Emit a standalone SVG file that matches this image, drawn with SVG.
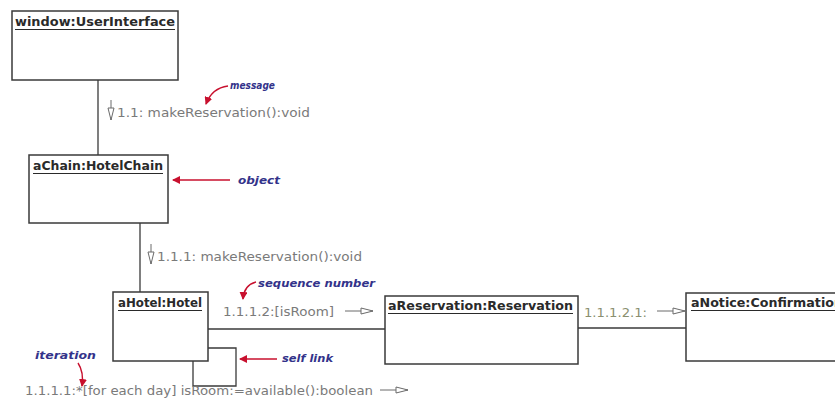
<svg xmlns="http://www.w3.org/2000/svg" width="835" height="403" viewBox="0 0 835 403">
<style>
.box{fill:#fff;stroke:#3a3a3a;stroke-width:1.5}
.title{font-family:"DejaVu Sans",sans-serif;font-weight:bold;font-size:11.5px;fill:#2a2a2a}
.ul{stroke:#2a2a2a;stroke-width:1}
.conn{fill:none;stroke:#3a3a3a;stroke-width:1.3}
.msg{font-family:"DejaVu Sans",sans-serif;font-size:11.5px;fill:#7a7a7a}
.msgarrow{fill:none;stroke:#6a6a6a;stroke-width:1}
.note{font-family:"DejaVu Sans",sans-serif;font-weight:bold;font-style:italic;font-size:10px;fill:#33338a}
.red{fill:none;stroke:#c8102e;stroke-width:1.4}
</style>
<defs>
<marker id="redhead" markerWidth="8" markerHeight="8" refX="7" refY="4" orient="auto" markerUnits="userSpaceOnUse">
<path d="M0,0 L8,4 L0,8 Z" fill="#c8102e"/>
</marker>
<marker id="openhead" markerWidth="14" markerHeight="8" refX="13" refY="4" orient="auto" markerUnits="userSpaceOnUse">
<path d="M1,1 L13,4 L1,7 Z" fill="#fff" stroke="#6a6a6a" stroke-width="1"/>
</marker>
</defs>
<rect width="835" height="403" fill="#fff"/>
<g id="connectors">
<path class="conn" d="M98,80 V155"/>
<path class="conn" d="M140,223 V292"/>
<path class="conn" d="M208,329 H385"/>
<path class="conn" d="M578,328 H686"/>
<path class="conn" d="M208,348 H236 V386 H193 V361"/>
</g>
<g id="window">
<rect class="box" x="12" y="11" width="166" height="69"/>
<text class="title" x="15" y="26" textLength="160" lengthAdjust="spacingAndGlyphs">window:UserInterface</text>
<line class="ul" x1="15" y1="29.5" x2="175" y2="29.5"/>
</g>
<g id="aChain">
<rect class="box" x="29" y="155" width="139" height="68"/>
<text class="title" x="33" y="170" textLength="130" lengthAdjust="spacingAndGlyphs">aChain:HotelChain</text>
<line class="ul" x1="33" y1="173.5" x2="163" y2="173.5"/>
</g>
<g id="aHotel">
<rect class="box" x="113" y="292" width="95" height="69"/>
<text class="title" x="118" y="307" textLength="84" lengthAdjust="spacingAndGlyphs">aHotel:Hotel</text>
<line class="ul" x1="118" y1="310.5" x2="202" y2="310.5"/>
</g>
<g id="aReservation">
<rect class="box" x="385" y="296" width="193" height="68"/>
<text class="title" x="388" y="310" textLength="185" lengthAdjust="spacingAndGlyphs">aReservation:Reservation</text>
<line class="ul" x1="388" y1="313.5" x2="573" y2="313.5"/>
</g>
<g id="aNotice">
<rect class="box" x="686" y="293" width="160" height="68"/>
<text class="title" x="691" y="307" textLength="152" lengthAdjust="spacingAndGlyphs">aNotice:Confirmation</text>
<line class="ul" x1="691" y1="310.5" x2="843" y2="310.5"/>
</g>
<g id="messages">
<line class="msgarrow" x1="111" y1="100" x2="111" y2="120" marker-end="url(#openhead)"/>
<text class="msg" x="117" y="117" textLength="193" lengthAdjust="spacingAndGlyphs">1.1: makeReservation():void</text>
<line class="msgarrow" x1="151" y1="244" x2="151" y2="264" marker-end="url(#openhead)"/>
<text class="msg" x="157" y="261" textLength="205" lengthAdjust="spacingAndGlyphs">1.1.1: makeReservation():void</text>
<text class="msg" x="223" y="316" textLength="111" lengthAdjust="spacingAndGlyphs">1.1.1.2:[isRoom]</text>
<line class="msgarrow" x1="345" y1="311" x2="373" y2="311" marker-end="url(#openhead)"/>
<text class="msg" x="584" y="317" textLength="63" lengthAdjust="spacingAndGlyphs" fill="#8a8f70" style="fill:#8a8f70">1.1.1.2.1:</text>
<line class="msgarrow" x1="657" y1="311" x2="685" y2="311" marker-end="url(#openhead)"/>
<text class="msg" x="25" y="395" textLength="348" lengthAdjust="spacingAndGlyphs">1.1.1.1:*[for each day] isRoom:=available():boolean</text>
<line class="msgarrow" x1="380" y1="390" x2="408" y2="390" marker-end="url(#openhead)"/>
</g>
<g id="annotations">
<text class="note" x="230" y="89" textLength="45" lengthAdjust="spacingAndGlyphs">message</text>
<path class="red" d="M228,86 Q212,88 206,104" marker-end="url(#redhead)"/>
<text class="note" x="238" y="184" textLength="42" lengthAdjust="spacingAndGlyphs">object</text>
<line class="red" x1="230" y1="180" x2="173" y2="180" marker-end="url(#redhead)"/>
<text class="note" x="258" y="287" textLength="117" lengthAdjust="spacingAndGlyphs">sequence number</text>
<path class="red" d="M256,282 Q244,285 243,299" marker-end="url(#redhead)"/>
<text class="note" x="282" y="362" textLength="51" lengthAdjust="spacingAndGlyphs">self link</text>
<line class="red" x1="277" y1="359" x2="240" y2="359" marker-end="url(#redhead)"/>
<text class="note" x="35" y="359" textLength="61" lengthAdjust="spacingAndGlyphs">iteration</text>
<path class="red" d="M78,363 Q84,372 82,386" marker-end="url(#redhead)"/>
</g>
</svg>
